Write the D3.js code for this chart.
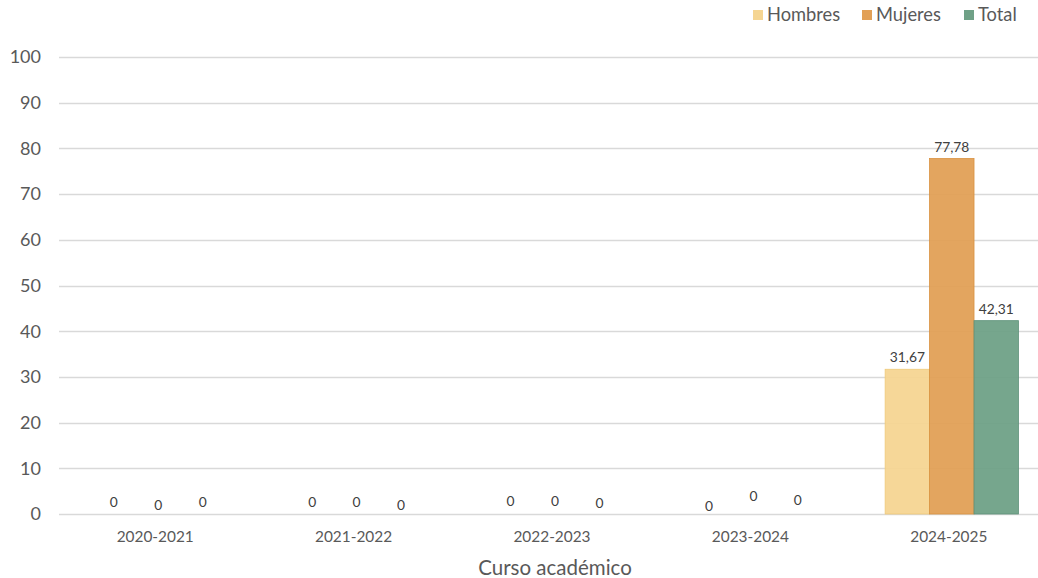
<!DOCTYPE html>
<html>
<head>
<meta charset="utf-8">
<script src="https://cdn.jsdelivr.net/npm/d3@7"></script>
<style>
  body { margin: 0; background: #fff; }
  svg text { font-family: "Lato", "Open Sans", sans-serif; fill: #595959; }
</style>
</head>
<body>
<svg id="chart" width="1038" height="578"></svg>
<script>

// data
var cursos = ['2020-2021', '2021-2022', '2022-2023', '2023-2024', '2024-2025'];
var series = ['Hombres', 'Mujeres', 'Total'];
var hombres = [0, 0, 0, 0, 31.67];
var mujeres = [0, 0, 0, 0, 77.78];
var total   = [0, 0, 0, 0, 42.31];
var yTicks  = [0, 10, 20, 30, 40, 50, 60, 70, 80, 90, 100];

var colors = { 'Hombres': '#F5D592', 'Mujeres': '#E2A056', 'Total': '#6FA187' };
var strokes = { 'Hombres': '#EFC979', 'Mujeres': '#D9913F', 'Total': '#5F927A' };

// excel nudges the zero labels around so they do not collide
var zeroNudge = [[0, 3, 0], [0, 0, 3], [-1, -1, 1], [4, -6, -2], [0, 0, 0]];

function draw_chart(){

    var svg = d3.select("#chart");
    var values = { 'Hombres': hombres, 'Mujeres': mujeres, 'Total': total };

    var y = d3.scaleLinear().domain([0, 100]).range([514, 57]);
    var x = d3.scaleBand().domain(cursos).range([59, 1051]).paddingInner(0.328).paddingOuter(0.164);
    var xs = d3.scaleBand().domain(series).range([0, x.bandwidth()]);

    // grid
    svg.append("g").selectAll("line")
        .data(yTicks).enter().append("line")
        .attr("x1", 59).attr("x2", 1038)
        .attr("y1", function(d){ return Math.round(y(d)) + 0.5; })
        .attr("y2", function(d){ return Math.round(y(d)) + 0.5; })
        .style("stroke", "#d9d9d9").style("stroke-width", 1.3);

    svg.append("g").selectAll("text")
        .data(yTicks).enter().append("text")
        .attr("x", 41).attr("y", function(d){ return y(d); })
        .attr("dy", ".35em")
        .attr("text-anchor", "end")
        .style("font-size", "18px")
        .text(function(d){ return d; });

    // bars
    series.forEach(function(s, j){
        var g = svg.append("g");
        g.selectAll("rect")
            .data(cursos).enter().append("rect")
            .attr("x", function(c){ return x(c) + xs(s); })
            .attr("width", xs.bandwidth())
            .attr("y", function(c, i){ return y(values[s][i]); })
            .attr("height", function(c, i){ return y(0) - y(values[s][i]); })
            .style("fill", colors[s])
            .style("fill-opacity", 0.95)
            .style("stroke", strokes[s])
            .style("stroke-width", 0.8);

        g.selectAll("text")
            .data(cursos).enter().append("text")
            .attr("x", function(c){ return x(c) + xs(s) + xs.bandwidth() / 2; })
            .attr("y", function(c, i){ return y(values[s][i]) - 7 + (values[s][i] == 0 ? zeroNudge[i][j] : 0); })
            .attr("text-anchor", "middle")
            .style("font-size", "13.8px")
            .style("fill", "#404040")
            .text(function(c, i){ return d3.format(".2~f")(values[s][i]).replace(".", ","); });
    });

    // category labels
    svg.append("g").selectAll("text")
        .data(cursos).enter().append("text")
        .attr("x", function(c){ return x(c) + x.bandwidth() / 2 - 3; })
        .attr("y", 542)
        .attr("text-anchor", "middle")
        .style("font-size", "15.4px")
        .text(function(c){ return c; });

    svg.append("text")
        .attr("x", 555).attr("y", 575)
        .attr("text-anchor", "middle")
        .style("font-size", "20.5px")
        .text("Curso académico");

    // legend
    var legX = [753, 862, 964];
    var leg = svg.append("g");
    series.forEach(function(s, j){
        leg.append("rect")
            .attr("x", legX[j]).attr("y", 10)
            .attr("width", 10).attr("height", 10)
            .style("fill", colors[s]);
        leg.append("text")
            .attr("x", legX[j] + 14).attr("y", 15)
            .attr("dy", ".35em")
            .style("font-size", "18.3px")
            .text(s);
    });
}

draw_chart();
</script>
</body>
</html>
